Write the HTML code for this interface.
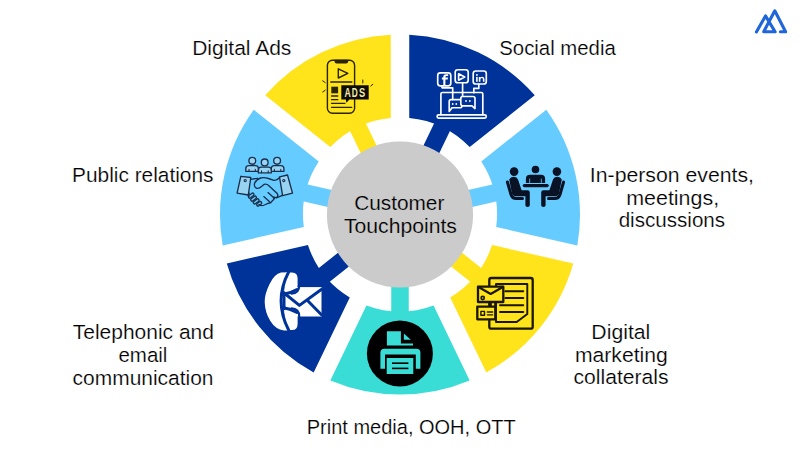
<!DOCTYPE html>
<html><head><meta charset="utf-8">
<style>
html,body{margin:0;padding:0;background:#fff;}
body{width:800px;height:450px;overflow:hidden;position:relative;font-family:"Liberation Sans",sans-serif;}
svg{position:absolute;left:0;top:0;}
</style></head><body>
<svg width="800" height="450" viewBox="0 0 800 450">
<rect x="400" y="205.75" width="100" height="17.5" fill="#003399" transform="rotate(-64.286 400 214.5)"/>
<rect x="400" y="205.75" width="100" height="17.5" fill="#66CCFF" transform="rotate(-12.857 400 214.5)"/>
<rect x="400" y="205.75" width="100" height="17.5" fill="#FFE31B" transform="rotate(38.571 400 214.5)"/>
<rect x="400" y="205.75" width="100" height="17.5" fill="#3ADDD6" transform="rotate(90.000 400 214.5)"/>
<rect x="400" y="205.75" width="100" height="17.5" fill="#003399" transform="rotate(141.429 400 214.5)"/>
<rect x="400" y="205.75" width="100" height="17.5" fill="#66CCFF" transform="rotate(192.857 400 214.5)"/>
<rect x="400" y="205.75" width="100" height="17.5" fill="#FFE31B" transform="rotate(244.286 400 214.5)"/>
<path d="M409.25,34.74 A180,180 0 0 1 534.78,95.19 L469.72,147.07 A97,97 0 0 0 409.25,117.94 Z" fill="#003399"/>
<path d="M546.31,109.65 A180,180 0 0 1 577.31,245.48 L496.20,226.97 A97,97 0 0 0 481.26,161.53 Z" fill="#66CCFF"/>
<path d="M573.20,263.52 A180,180 0 0 1 486.33,372.45 L450.23,297.48 A97,97 0 0 0 492.08,245.00 Z" fill="#FFE31B"/>
<path d="M469.66,380.47 A180,180 0 0 1 330.34,380.47 L366.44,305.51 A97,97 0 0 0 433.56,305.51 Z" fill="#3ADDD6"/>
<path d="M313.67,372.45 A180,180 0 0 1 226.80,263.52 L307.92,245.00 A97,97 0 0 0 349.77,297.48 Z" fill="#003399"/>
<path d="M222.69,245.48 A180,180 0 0 1 253.69,109.65 L318.74,161.53 A97,97 0 0 0 303.80,226.97 Z" fill="#66CCFF"/>
<path d="M265.22,95.19 A180,180 0 0 1 390.75,34.74 L390.75,117.94 A97,97 0 0 0 330.28,147.07 Z" fill="#FFE31B"/>
<circle cx="400" cy="214.5" r="73.1" fill="#CBCBCB"/>

<g fill="none" stroke="#2A2400" stroke-width="1.4" stroke-linecap="round" stroke-linejoin="round">
<rect x="327.4" y="60.2" width="27.2" height="53" rx="5"/>
<path d="M338.3,68.8 L347.8,73.4 L338.3,78 Z"/>
<path d="M330.8,82 H351.8"/>
<path d="M331.5,96 H337.8 M331.5,99.7 H337.8 M331.5,103.3 H345 M331.5,107.3 H351.8" stroke-width="1.3"/>
<path d="M322.7,80.8 L325.2,82.6 M322.7,92 L325.2,90.2 M362.8,80 V83 M370.8,86 L372.8,84.3" stroke-width="1"/>
</g>
<path d="M334.6,59.8 H348.2 V61.5 Q348.2,63.6 346,63.6 H336.8 Q334.6,63.6 334.6,61.5 Z" fill="#2A2400"/>
<rect x="331.3" y="86.7" width="6.8" height="6.6" fill="#2A2400"/>
<path d="M341.3,85.3 H368.7 V99.4 H349.4 L346.4,102.8 L345.8,99.4 H341.3 Z" fill="#0E0C00"/>
<g font-family="Liberation Sans, sans-serif" font-weight="bold" font-size="12" fill="#F2E9B2">
<text x="344.6" y="96.8" textLength="6.3" lengthAdjust="spacingAndGlyphs">A</text>
<text x="351.8" y="96.8" textLength="6.0" lengthAdjust="spacingAndGlyphs">D</text>
<text x="358.9" y="96.8" textLength="6.2" lengthAdjust="spacingAndGlyphs">S</text>
</g>

<g fill="none" stroke="#FFFFFF" stroke-width="1.65" stroke-linecap="round" stroke-linejoin="round">
<rect x="437.7" y="72.8" width="13.1" height="13.1" rx="2.6"/>
<rect x="455.2" y="69.7" width="13" height="13.1" rx="2.6"/>
<rect x="473.2" y="71" width="13.1" height="13" rx="2.6"/>
<path d="M458.6,73.8 L464.7,77 L458.6,80.2 Z"/>
<path d="M442,85.9 V87.8 H452.7 V99.6"/>
<path d="M462.6,82.8 V96.5"/>
<path d="M478.8,84 V88.4 H473.8 V92.8"/>
<path d="M440.9,114.6 V94 Q440.9,92.5 442.4,92.5 H481.3 Q482.8,92.5 482.8,94 V114.6"/>
<rect x="437.1" y="114.9" width="49.2" height="3.2" rx="1.6"/>
<path d="M451,99.6 H460 Q462,99.6 462,101.6 V105.7 Q462,107.7 460,107.7 H452 L449.2,111.5 V101.6 Q449.2,99.6 451,99.6 Z"/>
<path d="M462.8,96.5 H473 Q475,96.5 475,98.5 V108.6 L472,105.8 H462.8 Q460.8,105.8 460.8,103.8 V98.5 Q460.8,96.5 462.8,96.5 Z" fill="#003399"/>
</g>
<g fill="#FFFFFF">
<circle cx="452.7" cy="104" r="0.9"/><circle cx="456.3" cy="104" r="0.9"/>
<circle cx="466" cy="101" r="0.9"/><circle cx="469.8" cy="101" r="0.9"/>
<path d="M443.3,85.2 V79.4 H441.9 V77.6 H443.3 V76.9 Q443.3,74.3 446.2,74.3 H448.2 V76.1 H446.6 Q445.4,76.1 445.4,77.2 V77.6 H448 L447.7,79.4 H445.4 V85.2 Z"/>
<rect x="476.1" y="76.9" width="1.6" height="4.9"/><circle cx="476.9" cy="74.9" r="0.95"/>
<path d="M478.8,76.9 H480.4 V77.6 Q481,76.7 482.3,76.7 Q484.5,76.7 484.5,79.2 V81.8 H482.9 V79.5 Q482.9,78.1 481.8,78.1 Q480.4,78.1 480.4,79.6 V81.8 H478.8 Z"/>
</g>

<g fill="#0A1226">
<circle cx="535.5" cy="169.5" r="3.8"/>
<path d="M525.9,182.9 V178.8 Q525.9,174.8 530,174.8 H541 Q545.1,174.8 545.1,178.8 V182.9 Z"/>
<rect x="522.7" y="183.9" width="26.1" height="3.3" rx="1.6"/>
<circle cx="514.1" cy="171.6" r="4.3"/>
<circle cx="556.9" cy="171.6" r="4.3"/>
<path d="M509.2,179.5 Q510.5,176.6 514,176.8 Q517,177 518,179.6 L521.6,190.2 H527.6 Q529.8,190.2 529.8,192.4 V205.2 Q529.8,207 527.6,207 Q525.4,207 525.4,205.2 V196.2 H515.4 Q512.8,196.2 512,193.6 Z"/>
<path d="M561.8,179.5 Q560.5,176.6 557,176.8 Q554,177 553,179.6 L549.4,190.2 H543.4 Q541.2,190.2 541.2,192.4 V205.2 Q541.2,207 543.4,207 Q545.6,207 545.6,205.2 V196.2 H555.6 Q558.2,196.2 559,193.6 Z"/>
</g>
<path d="M529.7,178.6 V183 M541.3,178.6 V183" stroke="#66CCFF" stroke-width="0.8"/>
<g fill="none" stroke="#0A1226" stroke-width="3" stroke-linecap="round">
<path d="M507.4,182 L511,194.5 Q512.2,198.6 516.5,198.6 H522.5"/>
<path d="M563.6,182 L560,194.5 Q558.8,198.6 554.5,198.6 H548.5"/>
</g>

<g fill="none" stroke="#1A1600" stroke-linecap="round" stroke-linejoin="round">
<rect x="489.3" y="278" width="43.4" height="50.7" rx="2" stroke-width="2.3"/>
<path d="M496,284 H527.3 V314 L516.7,322 H496 Z" stroke-width="1.9"/>
<path d="M505.3,291.3 H523.3 M505.3,298 H523.3 M500,305.3 H523.3 M500,312 H523.3" stroke-width="1.9"/>
<rect x="478" y="286.7" width="25.3" height="15.3" fill="#FFE31B" stroke-width="2.3"/>
<path d="M478.5,287 L490.7,294 L502.8,287" stroke-width="2.2"/>
<circle cx="482.7" cy="298" r="1.6" stroke-width="1.6"/>
<rect x="477.3" y="306.7" width="18" height="12.6" fill="#FFE31B" stroke-width="2.3"/>
<rect x="480.9" y="311.4" width="3.6" height="3.8" stroke-width="1.4"/>
<path d="M487.3,312 H492.7 M487.3,314.8 H492.7" stroke-width="1.3"/>
</g>
<rect x="489.6" y="302.4" width="2.2" height="3.6" fill="#1A1600"/>
<rect x="494.2" y="302.4" width="2.2" height="3.6" fill="#1A1600"/>

<circle cx="399.9" cy="353.5" r="33" fill="#000"/>
<g fill="#3ADDD6">
<path d="M386.9,331.2 H400.9 V343.6 H413 V345.5 H386.9 Z"/>
<path d="M403.9,333.4 L410.8,339.8 H403.9 Z"/>
<path d="M380.4,368.7 V352.8 Q380.4,348.8 384.4,348.8 H416.4 Q420.4,348.8 420.4,352.8 V368.7 H415.8 V354.4 H385 V368.7 Z"/>
<rect x="386.7" y="358" width="26.6" height="16"/>
</g>
<rect x="392" y="362.4" width="16.4" height="1.6" fill="#000"/>
<rect x="392" y="367.6" width="16.4" height="1.6" fill="#000"/>
<circle cx="416.9" cy="352.1" r="1.4" fill="#3ADDD6"/>

<g fill="#FFFFFF">
<rect x="285.5" y="287.1" width="36" height="29.4"/>
<path d="M281,272.6 Q274.5,274 269.6,284 Q264.6,294 264.7,302 Q264.9,312 270.2,320.8 Q275.5,329.6 284,330.4 L289,330.4 Q276,302 289,272.2 Z"/>
<path d="M286,272.5 H292 Q297.6,272.5 297.6,278.5 V285 Q297.6,291 291.5,291.5 L284,292.5 Z"/>
<path d="M286,330 H292 Q297.6,330 297.6,324 V317 Q297.6,311 291.5,310.5 L284,310 Z"/>
</g>
<g fill="none" stroke="#003399" stroke-width="3" stroke-linecap="round" stroke-linejoin="round">
<path d="M288.6,272 Q273.6,301 288.6,330"/>
<path d="M282.2,294.5 Q290,293.5 297,289.5"/>
<path d="M282.2,307.5 Q290,308.5 297,312.5"/>
<path d="M283.5,292.5 L299.4,305.4 L321.3,289.5"/>
<path d="M321.2,314.5 L307.5,300.5"/>
<path d="M299.2,285.5 Q299.2,293.2 291.5,293.6" stroke-width="2.2"/>
<path d="M299.2,316.5 Q299.2,308.8 291.5,308.4" stroke-width="2.2"/>
</g>

<g fill="none" stroke="#1B2E4B" stroke-width="1.35" stroke-linecap="round" stroke-linejoin="round">
<g fill="#98D4F2">
<path d="M245.8,171.4 V168.6 Q245.8,165.6 248.8,165.6 H255.4 Q258.4,165.6 258.4,168.6 V171.4 Z"/>
<path d="M271.3,171.4 V168.6 Q271.3,165.6 274.3,165.6 H280.9 Q283.9,165.6 283.9,168.6 V171.4 Z"/>
<path d="M258.4,172.9 V170.2 Q258.4,167.1 261.4,167.1 H268.3 Q271.3,167.1 271.3,170.2 V172.9 Z"/>
<circle cx="252.3" cy="160.8" r="3.4"/>
<circle cx="264.7" cy="162.4" r="3.4"/>
<circle cx="277.1" cy="160.8" r="3.4"/>
<path d="M240.8,176.3 L250.8,177.5 L248.3,195 L237.1,193.1 Z"/>
<path d="M279.5,176.9 L287.5,175 L292.5,193.1 L282.6,195.6 Z"/>
</g>
<path d="M249,169.4 V171.3 M255.3,169.4 V171.3 M261.5,170.9 V172.8 M268.2,170.9 V172.8 M274.4,169.4 V171.3 M280.8,169.4 V171.3" stroke-width="1.1"/>
<path d="M250.6,179.3 L257.5,178.3"/>
<path d="M279.4,177.8 Q276.8,180.8 273.8,180.4 L268.5,178.5 Q264,177.2 260.5,178 Q256.2,179.6 254.6,183.2 Q253.6,187.2 256.8,188.3 Q259.2,188.8 261.2,186.8 L264,184.4 Q266.5,183.4 268.6,185.4 L277.2,193.6 Q278.6,195.6 277,197 Q275.5,198.2 273.8,197"/>
<path d="M282.4,195.3 L276.5,197.8"/>
<path d="M268,192.6 L274.6,198.6 M263.8,196.6 L270.4,202.4"/>
<path d="M274.2,197.6 Q274,200 272,201.2 Q271,203.5 268.5,203.2 L264.5,205 Q261.5,206.4 259,204.6"/>
<path d="M249.2,193.2 Q247.5,195 249,196.6"/>
</g>
<g fill="none" stroke="#1B2E4B" stroke-width="1.3">
<rect x="-3.2" y="-1.4" width="6.4" height="2.8" rx="1.4" transform="translate(251.2 195.6) rotate(-38)"/>
<rect x="-3.2" y="-1.4" width="6.4" height="2.8" rx="1.4" transform="translate(253.6 198.6) rotate(-38)"/>
<rect x="-3.2" y="-1.4" width="6.4" height="2.8" rx="1.4" transform="translate(256.2 201.4) rotate(-38)"/>
<rect x="-2.8" y="-1.4" width="5.6" height="2.8" rx="1.4" transform="translate(259.2 203.8) rotate(-38)"/>
</g>
<circle cx="245.2" cy="180.6" r="1.1" fill="none" stroke="#1B2E4B" stroke-width="1.1"/>
<circle cx="283.8" cy="180.6" r="1.1" fill="none" stroke="#1B2E4B" stroke-width="1.1"/>

<g font-family="Liberation Sans, sans-serif" fill="#000" font-size="20.5" stroke="#fff" stroke-width="0.2">
<text x="354.17" y="209.8" textLength="90.21" lengthAdjust="spacingAndGlyphs" stroke="#CBCBCB">Customer</text>
<text x="343.99" y="233.1" textLength="112.91" lengthAdjust="spacingAndGlyphs" stroke="#CBCBCB">Touchpoints</text>
<text x="192.15" y="55.0" textLength="99.24" lengthAdjust="spacingAndGlyphs">Digital Ads</text>
<text x="499.29" y="54.7" textLength="116.48" lengthAdjust="spacingAndGlyphs">Social media</text>
<text x="72.13" y="181.8" textLength="141.27" lengthAdjust="spacingAndGlyphs">Public relations</text>
<text x="589.87" y="181.8" textLength="164.18" lengthAdjust="spacingAndGlyphs">In-person events,</text>
<text x="626.16" y="204.9" textLength="93.03" lengthAdjust="spacingAndGlyphs">meetings,</text>
<text x="618.66" y="227.2" textLength="106.47" lengthAdjust="spacingAndGlyphs">discussions</text>
<text x="591.39" y="338.8" textLength="58.90" lengthAdjust="spacingAndGlyphs">Digital</text>
<text x="574.95" y="361.8" textLength="92.90" lengthAdjust="spacingAndGlyphs">marketing</text>
<text x="573.57" y="384.3" textLength="94.96" lengthAdjust="spacingAndGlyphs">collaterals</text>
<text x="72.80" y="338.6" textLength="141.07" lengthAdjust="spacingAndGlyphs">Telephonic and</text>
<text x="118.45" y="361.8" textLength="48.98" lengthAdjust="spacingAndGlyphs">email</text>
<text x="72.61" y="384.7" textLength="140.89" lengthAdjust="spacingAndGlyphs">communication</text>
<text x="306.79" y="433.8" textLength="208.83" lengthAdjust="spacingAndGlyphs">Print media, OOH, OTT</text>
</g>
<path d="M756.4,31.9 L765.5,15.9 L775.1,31.8 L763.7,31.8 L774.8,10.8 L785.6,31.8 L780.4,31.8" fill="none" stroke="#1F66D8" stroke-width="3.1" stroke-linejoin="round" stroke-linecap="round"/>
</svg>
</body></html>
